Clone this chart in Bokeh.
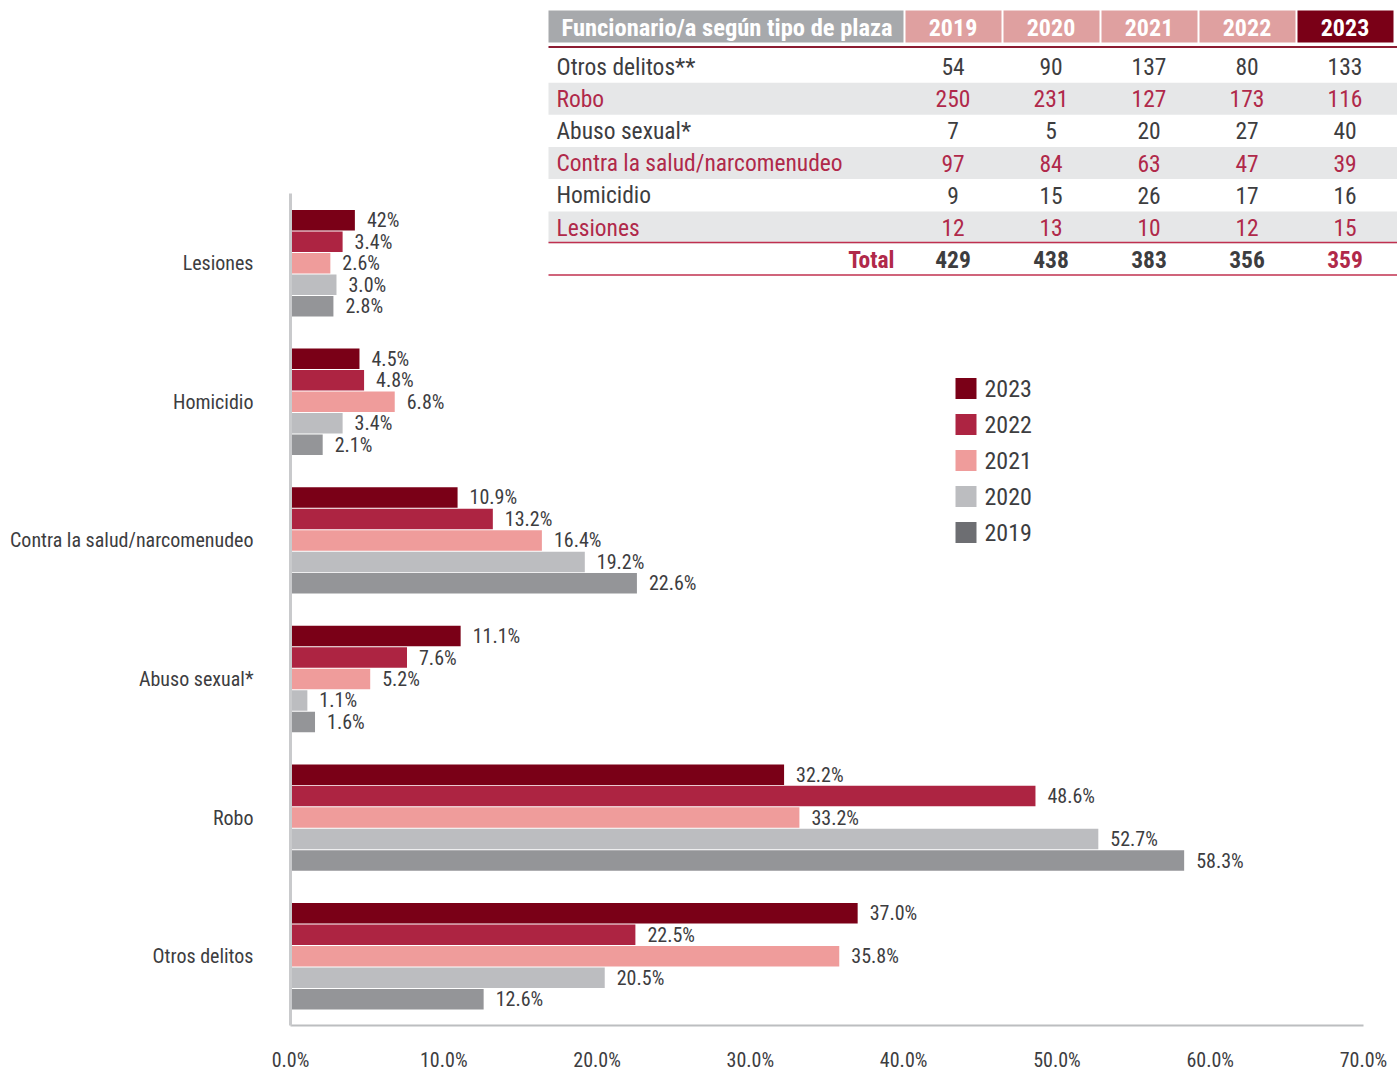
from bokeh.plotting import figure
from bokeh.models import (ColumnDataSource, Range1d, LinearAxis, FixedTicker,
                          PrintfTickFormatter)
from bokeh.core.properties import value
from bokeh.embed import file_html
from bokeh.resources import INLINE

# ---------------- data ----------------
categories = ["Lesiones", "Homicidio", "Contra la salud/narcomenudeo",
              "Abuso sexual*", "Robo", "Otros delitos"]
years = ["2023", "2022", "2021", "2020", "2019"]

pct_2023 = [4.2, 4.5, 10.9, 11.1, 32.2, 37.0]
pct_2022 = [3.4, 4.8, 13.2, 7.6, 48.6, 22.5]
pct_2021 = [2.6, 6.8, 16.4, 5.2, 33.2, 35.8]
pct_2020 = [3.0, 3.4, 19.2, 1.1, 52.7, 20.5]
pct_2019 = [2.8, 2.1, 22.6, 1.6, 58.3, 12.6]

lbl_2023 = ["42%", "4.5%", "10.9%", "11.1%", "32.2%", "37.0%"]
lbl_2022 = ["3.4%", "4.8%", "13.2%", "7.6%", "48.6%", "22.5%"]
lbl_2021 = ["2.6%", "6.8%", "16.4%", "5.2%", "33.2%", "35.8%"]
lbl_2020 = ["3.0%", "3.4%", "19.2%", "1.1%", "52.7%", "20.5%"]
lbl_2019 = ["2.8%", "2.1%", "22.6%", "1.6%", "58.3%", "12.6%"]

x_ticks = [0, 10, 20, 30, 40, 50, 60, 70]

table_title = "Funcionario/a según tipo de plaza"
table_years = ["2019", "2020", "2021", "2022", "2023"]
table_rows = ["Otros delitos**", "Robo", "Abuso sexual*",
              "Contra la salud/narcomenudeo", "Homicidio", "Lesiones"]
cnt_2019 = [54, 250, 7, 97, 9, 12]
cnt_2020 = [90, 231, 5, 84, 15, 13]
cnt_2021 = [137, 127, 20, 63, 26, 10]
cnt_2022 = [80, 173, 27, 47, 17, 12]
cnt_2023 = [133, 116, 40, 39, 16, 15]
totals = [429, 438, 383, 356, 359]

# ---------------- styles ----------------
FONT = "'Roboto Condensed', 'DejaVu Sans Condensed', sans-serif"
DARK = "#3d3d3f"
CRIMSON = "#b0294a"
bar_colors = {"2023": "#7a0017", "2022": "#ad2442", "2021": "#ef9c9b",
              "2020": "#bcbdc0", "2019": "#949598"}
legend_colors = {"2023": "#7a0017", "2022": "#ad2442", "2021": "#ef9c9b",
                 "2020": "#bcbdc0", "2019": "#6d6e72"}

W, H = 1397, 1074
LEFT, BOTTOM = 290, 49
FRAME_W = W - LEFT
FRAME_H = H - BOTTOM
PX_PER_PCT = 1073 / 70.0
PX_PER_GROUP = 138.6

p = figure(width=W, height=H, output_backend="svg", toolbar_location=None,
           x_range=Range1d(0, FRAME_W / PX_PER_PCT),
           y_range=Range1d(0, FRAME_H / PX_PER_GROUP),
           x_axis_location=None, y_axis_location=None,
           min_border_left=LEFT, min_border_right=0, min_border_top=0,
           min_border_bottom=BOTTOM)
p.outline_line_color = None
p.grid.visible = False
p.background_fill_color = "white"
p.border_fill_color = "white"

# pixel-like ranges for the table / legend (canvas coordinates)
p.extra_x_ranges = {"px": Range1d(LEFT, W)}
p.extra_y_ranges = {"py": Range1d(FRAME_H, 0)}

# ---------------- bars ----------------
n = len(categories)
centers = [n - 0.5 - i for i in range(n)]
offsets = {"2023": 0.31, "2022": 0.155, "2021": 0.0, "2020": -0.155, "2019": -0.31}
pcts = {"2023": pct_2023, "2022": pct_2022, "2021": pct_2021,
        "2020": pct_2020, "2019": pct_2019}
lbls = {"2023": lbl_2023, "2022": lbl_2022, "2021": lbl_2021,
        "2020": lbl_2020, "2019": lbl_2019}

for yr in years:
    src = ColumnDataSource(dict(y=[c + offsets[yr] for c in centers],
                                v=pcts[yr], t=lbls[yr]))
    p.hbar(y="y", left=0, right="v", height=0.148, source=src,
           fill_color=bar_colors[yr], line_color=None)
    p.text(x="v", y="y", text="t", source=src, x_offset=12,
           text_baseline="middle", text_align="left",
           text_font=value(FONT), text_font_size="20px", text_color=DARK)

# ---------------- axes ----------------
yaxis = LinearAxis(ticker=FixedTicker(ticks=centers),
                   major_label_overrides={c: cat for c, cat in zip(centers, categories)},
                   bounds=(0, 6))
yaxis.axis_line_color = "#c9cacc"
yaxis.axis_line_width = 3
yaxis.major_tick_line_color = None
yaxis.minor_tick_line_color = None
yaxis.major_tick_out = 0
yaxis.major_tick_in = 0
yaxis.major_label_standoff = 37
yaxis.major_label_text_font = FONT
yaxis.major_label_text_font_size = "20px"
yaxis.major_label_text_color = DARK
yaxis.major_label_orientation = "horizontal"
yaxis.axis_label_standoff = 0
yaxis.axis_label_text_font_size = "0px"
p.add_layout(yaxis, "left")

xaxis = LinearAxis(ticker=FixedTicker(ticks=x_ticks),
                   formatter=PrintfTickFormatter(format="%.1f%%"),
                   bounds=(0, 70))
xaxis.axis_line_color = "#bcbec0"
xaxis.axis_line_width = 2
xaxis.major_tick_line_color = None
xaxis.minor_tick_line_color = None
xaxis.major_tick_out = 0
xaxis.major_tick_in = 0
xaxis.major_label_standoff = 22
xaxis.major_label_text_font = FONT
xaxis.major_label_text_font_size = "20px"
xaxis.major_label_text_line_height = 0.8
xaxis.major_label_text_color = DARK
xaxis.axis_label_standoff = 0
xaxis.axis_label_text_font_size = "0px"
p.add_layout(xaxis, "below")

# ---------------- legend (pixel coords) ----------------
leg_y = [388 + 36 * i for i in range(len(years))]
leg_src = ColumnDataSource(dict(x=[965.5] * len(years), y=leg_y, yr=years,
                                c=[legend_colors[y] for y in years]))
p.rect(x="x", y="y", width=21, height=21, width_units="screen",
       height_units="screen", fill_color="c", line_color=None, source=leg_src,
       x_range_name="px", y_range_name="py")
p.text(x=984, y="y", text="yr", source=leg_src, text_baseline="middle",
       text_font=value(FONT), text_font_size="24px", text_color=DARK,
       x_range_name="px", y_range_name="py")

# ---------------- table (pixel coords) ----------------
T_L, T_R = 548, W
C1_R = 903
col_w = 98
col_left = [C1_R + 1 + col_w * i for i in range(len(table_years))]
col_ctr = [cl + 48.5 for cl in col_left]
H_TOP, H_BOT = 10, 42
ROW0, ROW_H = 66, 32.2

kw = dict(x_range_name="px", y_range_name="py")

# header
p.quad(left=[T_L], right=[C1_R], top=[H_TOP], bottom=[H_BOT],
       fill_color="#a7a9ac", line_color=None, **kw)
hdr_src = ColumnDataSource(dict(l=[cl + 1 for cl in col_left],
                                r=[min(cl + col_w - 1, T_R) for cl in col_left],
                                c=["#dfa0a0"] * 4 + ["#7a0017"],
                                x=col_ctr, t=table_years))
p.quad(left="l", right="r", top=H_TOP, bottom=H_BOT, fill_color="c",
       line_color=None, source=hdr_src, **kw)
p.text(x="x", y=(H_TOP + H_BOT) / 2 + 1, text="t", source=hdr_src,
       text_align="center", text_baseline="middle", text_font=value(FONT),
       text_font_style="bold", text_font_size="24px", text_color="white", **kw)
p.text(x=[561], y=[(H_TOP + H_BOT) / 2 + 1], text=[table_title],
       text_baseline="middle", text_font=value(FONT), text_font_style="bold",
       text_font_size="24.5px", text_color="white", **kw)
p.segment(x0=[T_L], x1=[T_R], y0=[46.5], y1=[46.5], line_color="#8c1c32",
          line_width=2, **kw)

# body rows
row_y = [ROW0 + ROW_H * i for i in range(len(table_rows))]
band_y = [row_y[i] for i in range(len(table_rows)) if i % 2 == 1]
p.quad(left=T_L, right=T_R, top=[y - 16 for y in band_y],
       bottom=[y + 16 for y in band_y], fill_color="#e6e7e8", line_color=None, **kw)
row_colors = [DARK if i % 2 == 0 else CRIMSON for i in range(len(table_rows))]
p.text(x=556, y=row_y, text=table_rows, text_color=row_colors,
       text_baseline="middle", text_font=value(FONT), text_font_size="23.5px", **kw)
cnts = [cnt_2019, cnt_2020, cnt_2021, cnt_2022, cnt_2023]
for j, col in enumerate(cnts):
    p.text(x=col_ctr[j], y=row_y, text=[str(v) for v in col],
           text_color=row_colors, text_align="center", text_baseline="middle",
           text_font=value(FONT), text_font_size="23.5px", **kw)

# total row
tot_y = 259
p.segment(x0=[T_L], x1=[T_R], y0=[242], y1=[242], line_color="#c0304f",
          line_width=1.5, **kw)
p.segment(x0=[T_L], x1=[T_R], y0=[274.5], y1=[274.5], line_color="#c0304f",
          line_width=1.5, **kw)
p.text(x=[894], y=[tot_y], text=["Total"], text_align="right",
       text_baseline="middle", text_font=value(FONT), text_font_style="bold",
       text_font_size="23.5px", text_color=CRIMSON, **kw)
p.text(x=col_ctr, y=tot_y, text=[str(t) for t in totals],
       text_color=[DARK] * 4 + [CRIMSON], text_align="center",
       text_baseline="middle", text_font=value(FONT), text_font_style="bold",
       text_font_size="23.5px", **kw)

open("out.html", "w").write(file_html(p, INLINE))
